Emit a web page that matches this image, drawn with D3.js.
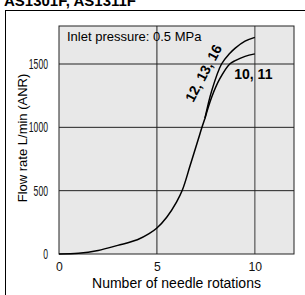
<!DOCTYPE html>
<html>
<head>
<meta charset="utf-8">
<script src="https://cdn.jsdelivr.net/npm/d3@7"></script>
<style>
  body { margin: 0; background: #fff; }
  text { font-family: "Liberation Sans", Arial, sans-serif; }
</style>
</head>
<body>
<div id="chart"></div>
<script>
// Data
var rotationsShared = [0, 1, 2, 3, 4, 4.6, 5, 5.5, 6, 6.3, 6.7, 7.1, 7.3, 7.45];
var flowShared = [0, 5, 28, 68, 112, 160, 205, 290, 410, 505, 700, 900, 1000, 1070];

var rotationsUpper = [7.45, 7.8, 8.3, 8.7, 9, 9.5, 10];
var flowUpper = [1070, 1290, 1500, 1580, 1625, 1680, 1710];

var rotationsLower = [7.45, 7.8, 8.2, 8.72, 9, 9.5, 10];
var flowLower = [1070, 1240, 1380, 1500, 1527, 1560, 1580];

var xTicks = [0, 5, 10];
var yTicks = [0, 500, 1000, 1500];

var svgWidth = 305;
var svgHeight = 295;

var margin = { top: 26, right: 11, bottom: 41, left: 59 };
var chartWidth = svgWidth - margin.left - margin.right;
var chartHeight = svgHeight - margin.top - margin.bottom;

var svg = d3.select("#chart")
  .append("svg")
  .attr("width", svgWidth)
  .attr("height", svgHeight);

// outer frame + title (top clipped like the reference)
svg.append("rect")
  .attr("x", 5.5).attr("y", 10.5)
  .attr("width", 320).attr("height", 300)
  .attr("fill", "none").attr("stroke", "#000").attr("stroke-width", 1);

svg.append("text")
  .attr("x", 4).attr("y", 6)
  .style("font-size", "15px").style("font-weight", "bold")
  .text("AS1301F, AS1311F");

var chartGroup = svg.append("g")
  .attr("transform", `translate(${margin.left}, ${margin.top})`);

var xScale = d3.scaleLinear().domain([0, 12]).range([0, chartWidth]);
var yScale = d3.scaleLinear().domain([0, 1800]).range([chartHeight, 0]);

// plot background
chartGroup.append("rect")
  .attr("width", chartWidth).attr("height", chartHeight)
  .attr("fill", "#e8e8e8");

// grid
chartGroup.selectAll(".vgrid")
  .data(xTicks.filter(d => d > 0))
  .enter().append("line")
  .attr("x1", d => xScale(d)).attr("x2", d => xScale(d))
  .attr("y1", 0).attr("y2", chartHeight)
  .attr("stroke", d => d === 10 ? "#6a6a6a" : "#222")
  .attr("stroke-width", d => d === 10 ? 1.4 : 1);

chartGroup.selectAll(".hgrid")
  .data(yTicks.filter(d => d > 0))
  .enter().append("line")
  .attr("x1", 0).attr("x2", chartWidth)
  .attr("y1", d => yScale(d)).attr("y2", d => yScale(d))
  .attr("stroke", "#222").attr("stroke-width", 1);

// plot border
chartGroup.append("rect")
  .attr("width", chartWidth).attr("height", chartHeight)
  .attr("fill", "none").attr("stroke", "#222").attr("stroke-width", 1);

// axes (labels only) - the reference digits are condensed
var xAxis = d3.axisBottom(xScale).tickValues(xTicks).tickFormat(d3.format("d")).tickSize(0).tickPadding(8);
var yAxis = d3.axisLeft(yScale).tickValues(yTicks).tickFormat(d3.format("d")).tickSize(0).tickPadding(11);

chartGroup.append("g")
  .attr("transform", `translate(0, ${chartHeight})`)
  .call(xAxis)
  .call(g => g.select(".domain").remove())
  .selectAll("text")
  .style("font-size", "13px").attr("fill", "#111")
  .attr("textLength", d => String(d).length * 6.8)
  .attr("lengthAdjust", "spacingAndGlyphs");

chartGroup.append("g")
  .call(yAxis)
  .call(g => g.select(".domain").remove())
  .selectAll("text")
  .style("font-size", "14px").attr("fill", "#111")
  .attr("textLength", d => String(d).length * 4.8)
  .attr("lengthAdjust", "spacingAndGlyphs");

// curves
var line = d3.line()
  .x(d => xScale(d[0]))
  .y(d => yScale(d[1]))
  .curve(d3.curveCatmullRom.alpha(0.5));

var series = [
  d3.zip(rotationsShared, flowShared),
  d3.zip(rotationsUpper, flowUpper),
  d3.zip(rotationsLower, flowLower)
];

chartGroup.selectAll(".curve")
  .data(series)
  .enter().append("path")
  .attr("d", line)
  .attr("fill", "none")
  .attr("stroke", "#000")
  .attr("stroke-width", 1.5);

// annotations
chartGroup.append("text")
  .attr("x", 8).attr("y", 15)
  .style("font-size", "13px")
  .text("Inlet pressure: 0.5 MPa");

chartGroup.append("text")
  .attr("transform", `translate(${xScale(7.6)}, ${yScale(1410)}) rotate(-62)`)
  .attr("text-anchor", "middle")
  .style("font-size", "14px").style("font-weight", "bold")
  .text("12, 13, 16");

chartGroup.append("text")
  .attr("x", xScale(8.95)).attr("y", yScale(1385))
  .style("font-size", "14px").style("font-weight", "bold")
  .text("10, 11");

// axis titles
svg.append("text")
  .attr("transform", `translate(27, ${margin.top + chartHeight / 2 - 2}) rotate(-90)`)
  .attr("text-anchor", "middle")
  .style("font-size", "13px")
  .text("Flow rate L/min (ANR)");

svg.append("text")
  .attr("x", margin.left + chartWidth / 2).attr("y", 288)
  .attr("text-anchor", "middle")
  .style("font-size", "14px")
  .text("Number of needle rotations");
</script>
</body>
</html>
